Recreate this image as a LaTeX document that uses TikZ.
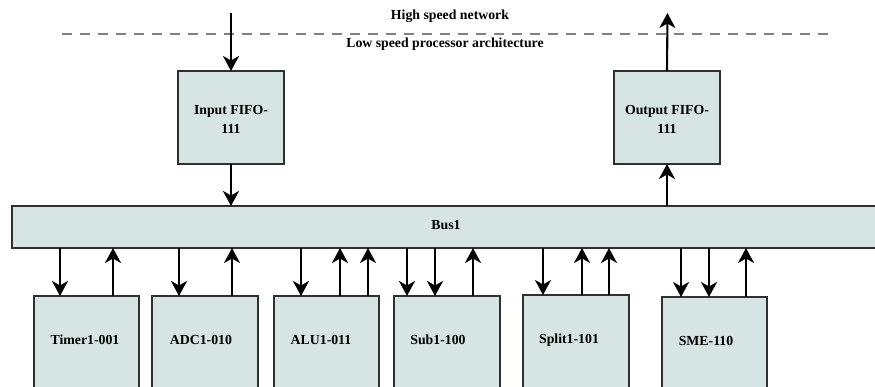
\documentclass[tikz,border=0pt]{standalone}
\usepackage{fontspec}
\setmainfont{Liberation Serif}
\usetikzlibrary{arrows.meta}
\definecolor{boxfill}{HTML}{D7E4E4}
\definecolor{boxline}{HTML}{303030}
\definecolor{dashgray}{HTML}{808080}
\tikzset{
  blk/.style={draw=boxline, line width=1.1pt, fill=boxfill, inner sep=0pt, outer sep=0pt},
  lbl/.style={font=\fontsize{13.8}{19}\selectfont\bfseries, inner sep=0pt, align=center},
  arr/.style={line width=2.1pt, -{Stealth[length=15pt,width=16pt,inset=4.5pt]}},
  sep/.style={draw=dashgray, line width=1.3pt, dash pattern=on 10pt off 8pt}
}
\begin{document}
\begin{tikzpicture}[x=1pt,y=-1pt]
\useasboundingbox (0,0) rectangle (875,387);
\clip (0,0) rectangle (875,387);
\fill[white] (0,0) rectangle (875,387);
% separator
\coordinate (sepL) at (62,34);
\coordinate (sepR) at (832,34);
\draw[sep] (sepL) -- (sepR);
\node[lbl] (hs) at (450,16) {High speed network};
\node[lbl] (ls) at (445,44) {Low speed processor architecture};
% FIFOs
\node[blk, minimum width=106, minimum height=93] (infifo) at (231,117.5) {};
\node[lbl] (inlbl) at (231,119.5) {Input FIFO-\\111};
\node[blk, minimum width=106, minimum height=93] (outfifo) at (667,117.5) {};
\node[lbl] (outlbl) at (667,119.5) {Output FIFO-\\111};
% bus
\node[blk, line width=1.5pt, minimum width=880, minimum height=42] (bus) at (452,227) {};
\node[lbl] (buslbl) at (446,225) {Bus1};
% bottom blocks
\node[blk, minimum width=105, minimum height=120] (timer) at (86.5,356) {};
\node[blk, minimum width=106, minimum height=120] (adc) at (205,356) {};
\node[blk, minimum width=105, minimum height=120] (alu) at (326.5,356) {};
\node[blk, minimum width=106, minimum height=120] (sub) at (447,356) {};
\node[blk, minimum width=106, minimum height=120] (split) at (576,355) {};
\node[blk, minimum width=105, minimum height=120] (sme) at (714.5,357) {};
\node[lbl] (timerlbl) at (85,340) {Timer1-001};
\node[lbl] (adclbl) at (201,340) {ADC1-010};
\node[lbl] (alulbl) at (321,340) {ALU1-011};
\node[lbl] (sublbl) at (438,340) {Sub1-100};
\node[lbl] (splitlbl) at (569,340) {Split1-101};
\node[lbl] (smelbl) at (706,341) {SME-110};
% external arrows
\coordinate (netin) at (231,13);
\coordinate (netout) at (667.5,13);
\draw[arr] (netin) -- (infifo.north);
\draw[arr] (outfifo.north) -- (netout);
\draw[arr] (infifo.south) -- (infifo.south |- bus.north);
\draw[arr] (outfifo.south |- bus.north) -- (outfifo.south);
% bus <-> blocks (down = bus to block, up = block to bus)
\foreach \blkname/\xx in {timer/60, adc/179, alu/301, sub/407, sub/435, split/543, sme/681, sme/709}{
  \draw[arr] (bus.south -| \xx,0) -- (\blkname.north -| \xx,0);
}
\foreach \blkname/\xx in {timer/113, adc/232, alu/340, alu/368, sub/473, split/582, split/609, sme/746}{
  \draw[arr] (\blkname.north -| \xx,0) -- (bus.south -| \xx,0);
}
\end{tikzpicture}
\end{document}
